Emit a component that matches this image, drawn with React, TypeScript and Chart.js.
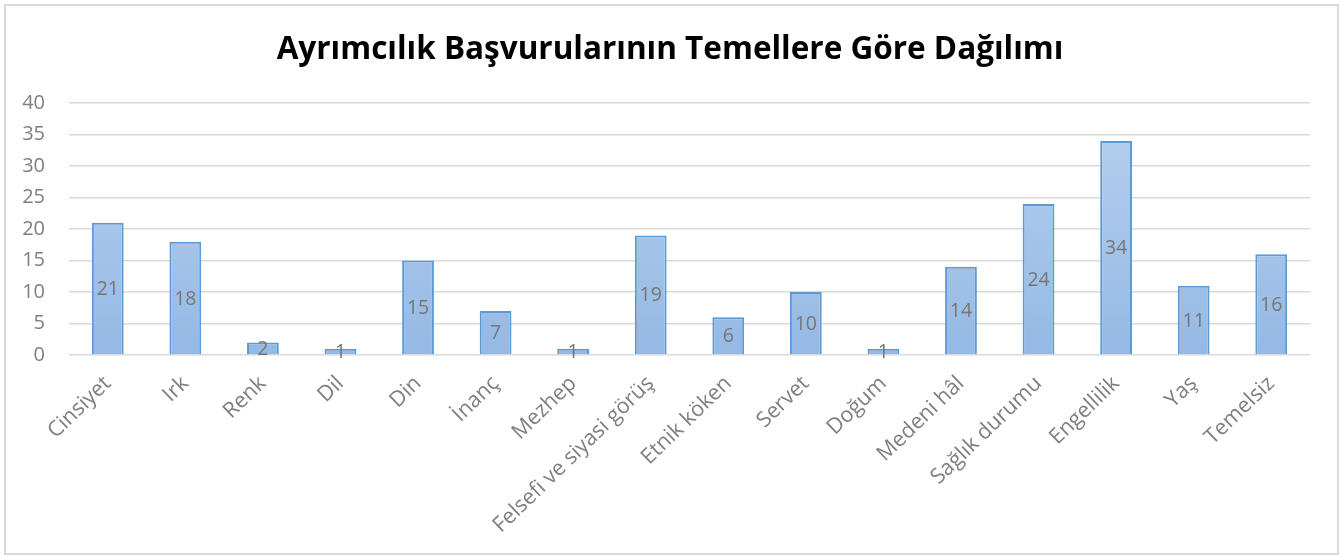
import React, { useEffect, useRef } from "react";
import { Chart, registerables } from "chart.js";

Chart.register(...registerables);

const categories = [
  "Cinsiyet", "Irk", "Renk", "Dil", "Din", "İnanç", "Mezhep",
  "Felsefi ve siyasi görüş", "Etnik köken", "Servet", "Doğum",
  "Medeni hâl", "Sağlık durumu", "Engellilik", "Yaş", "Temelsiz",
];
const values = [21, 18, 2, 1, 15, 7, 1, 19, 6, 10, 1, 14, 24, 34, 11, 16];
const yTicks = [0, 5, 10, 15, 20, 25, 30, 35, 40];
const titleText = "Ayrımcılık Başvurularının Temellere Göre Dağılımı";

const FONT = "'Open Sans', Lato, sans-serif";

const dataLabelPlugin = {
  id: "dataLabels",
  afterDatasetsDraw(chart: any) {
    const ctx = chart.ctx;
    const meta = chart.getDatasetMeta(0);
    ctx.save();
    ctx.font = `19.5px ${FONT}`;
    ctx.fillStyle = "#767676";
    ctx.textAlign = "center";
    ctx.textBaseline = "middle";
    meta.data.forEach((bar: any, i: number) => {
      const { x, y, base } = bar.getProps(["x", "y", "base"], true);
      ctx.fillText(String(values[i]), x, (y + base) / 2 + 1);
    });
    ctx.restore();
  },
};

// centre the title on the whole page width rather than on the padded box
const titleShiftPlugin = {
  id: "titleShift",
  afterLayout(chart: any) {
    const t = chart.titleBlock;
    if (t) {
      t.left = 0;
      t.right = chart.width;
      t.width = chart.width;
    }
  },
};

export default function App() {
  const ref = useRef<HTMLCanvasElement>(null);
  useEffect(() => {
    document.body.style.margin = "0";
    const canvas = ref.current!;
    const chart = new Chart(canvas, {
      type: "bar",
      data: {
        labels: categories,
        datasets: [
          {
            data: values,
            backgroundColor: (c: any) => {
              const area = c.chart.chartArea;
              if (!area) return "#a9c6ea";
              const g = c.chart.ctx.createLinearGradient(0, area.top, 0, area.bottom);
              g.addColorStop(0, "#b9d0ee");
              g.addColorStop(1, "#94b9e5");
              return g;
            },
            borderColor: "#5b9bd5",
            borderWidth: 2,
            categoryPercentage: 1,
            barPercentage: 0.41,
          },
        ],
      },
      options: {
        animation: false,
        responsive: false,
        layout: { padding: { left: 10, right: 30, top: 26, bottom: 0 } },
        plugins: {
          legend: { display: false },
          tooltip: { enabled: false },
          title: {
            display: true,
            text: titleText,
            color: "#000000",
            font: { family: FONT, size: 31.5, weight: "bold" },
            padding: { top: 5, bottom: 34.4 },
          },
        },
        scales: {
          x: {
            grid: { display: false, drawTicks: false },
            border: { display: false },
            ticks: {
              color: "#7f7f7f",
              font: { family: FONT, size: 21.5 },
              minRotation: 44,
              maxRotation: 44,
              padding: 16,
              autoSkip: false,
            },
            afterFit: (s: any) => {
              s.height = 556 - 355 - 0;
            },
          },
          y: {
            min: 0,
            max: 40,
            afterBuildTicks: (s: any) => {
              s.ticks = yTicks.map((v) => ({ value: v }));
            },
            grid: { color: "#d9d9d9", lineWidth: 1.6, drawTicks: false },
            border: { display: false },
            ticks: {
              color: "#7f7f7f",
              font: { family: FONT, size: 20 },
              padding: 24,
            },
            afterFit: (s: any) => {
              s.width = 69 - 10;
            },
          },
        },
      },
      plugins: [dataLabelPlugin, titleShiftPlugin],
    });
    return () => chart.destroy();
  }, []);
  return (
    <div style={{ position: "relative", width: 1340, height: 556, background: "#fff" }}>
      <div
        style={{
          position: "absolute",
          left: 4,
          top: 4,
          width: 1331,
          height: 547,
          border: "2px solid #d9d9d9",
        }}
      />
      <canvas
        ref={ref}
        width={1340}
        height={556}
        style={{ position: "absolute", left: 0, top: 0, width: 1340, height: 556 }}
      />
    </div>
  );
}
